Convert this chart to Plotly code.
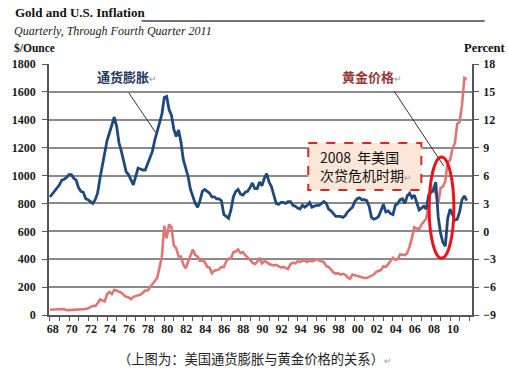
import plotly.graph_objects as go

# ---------------- data (quarterly, 1968Q1 - 2011Q4) ----------------
years = list(range(1968, 2012))

# US CPI inflation, percent (right axis)
inflation = [
    3.7, 4.0, 4.4, 4.7,    # 1968
    5.0, 5.5, 5.6, 5.8,    # 1969
    6.1, 6.1, 5.7, 5.5,    # 1970
    4.7, 4.3, 4.2, 3.5,    # 1971
    3.4, 3.2, 3.0, 3.4,    # 1972
    4.1, 5.7, 7.0, 8.3,    # 1973
    9.8, 10.6, 11.5, 12.3, # 1974
    11.3, 9.5, 8.6, 7.3,   # 1975
    6.4, 6.1, 5.5, 5.0,    # 1976
    5.9, 6.8, 6.7, 6.6,    # 1977
    6.6, 7.2, 7.8, 8.6,    # 1978
    9.8, 10.7, 11.7, 12.6, # 1979
    14.4, 14.5, 13.1, 12.5,# 1980
    11.0, 10.2, 10.9, 9.6, # 1981
    7.7, 6.8, 5.9, 4.5,    # 1982
    3.7, 3.0, 2.6, 3.3,    # 1983
    4.3, 4.5, 4.3, 4.1,    # 1984
    3.7, 3.7, 3.5, 3.5,    # 1985
    3.3, 1.8, 1.6, 1.4,    # 1986
    2.3, 3.7, 4.3, 4.5,    # 1987
    4.0, 3.9, 4.2, 4.3,    # 1988
    4.7, 5.2, 4.6, 4.6,    # 1989
    5.3, 4.9, 5.7, 6.2,    # 1990
    5.3, 4.8, 3.9, 3.0,    # 1991
    2.9, 3.1, 3.1, 3.0,    # 1992
    3.2, 3.2, 2.8, 2.7,    # 1993
    2.5, 2.4, 2.8, 2.6,    # 1994
    2.8, 3.1, 2.6, 2.7,    # 1995
    2.8, 2.8, 3.0, 3.2,    # 1996
    3.0, 2.4, 2.2, 1.9,    # 1997
    1.6, 1.6, 1.6, 1.5,    # 1998
    1.7, 2.1, 2.4, 2.6,    # 1999
    3.2, 3.5, 3.6, 3.4,    # 2000
    3.4, 3.3, 2.7, 1.5,    # 2001
    1.3, 1.4, 1.6, 2.3,    # 2002
    2.9, 2.1, 2.2, 1.9,    # 2003
    1.8, 2.8, 3.0, 3.4,    # 2004
    3.5, 3.0, 3.8, 4.1,    # 2005
    3.6, 3.9, 3.0, 2.3,    # 2006
    2.5, 2.7, 2.4, 3.9,    # 2007
    4.2, 4.4, 5.3, 1.6,    # 2008
    -0.2, -1.2, -1.6, 1.4, # 2009
    2.4, 1.8, 1.2, 1.3,    # 2010
    2.1, 3.4, 3.8, 3.3,    # 2011
]

# Gold price, $/ounce (left axis)
gold = [
    38, 40, 40, 39,        # 1968
    42, 43, 41, 35,        # 1969
    35, 36, 36, 37,        # 1970
    38, 40, 42, 43,        # 1971
    48, 57, 66, 64,        # 1972
    83, 112, 105, 97,      # 1973
    150, 165, 150, 180,    # 1974
    175, 167, 160, 143,    # 1975
    130, 127, 113, 130,    # 1976
    136, 145, 146, 160,    # 1977
    176, 176, 200, 215,    # 1978
    240, 265, 340, 420,    # 1979
    640, 550, 650, 630,    # 1980
    500, 480, 420, 420,    # 1981
    360, 335, 380, 430,    # 1982
    470, 430, 420, 390,    # 1983
    390, 380, 345, 340,    # 1984
    300, 318, 325, 327,    # 1985
    345, 343, 385, 405,    # 1986
    405, 450, 455, 470,    # 1987
    445, 450, 430, 415,    # 1988
    395, 375, 365, 380,    # 1989
    410, 370, 385, 380,    # 1990
    365, 360, 355, 360,    # 1991
    350, 340, 345, 335,    # 1992
    330, 365, 375, 370,    # 1993
    385, 380, 390, 390,    # 1994
    380, 390, 385, 390,    # 1995
    400, 390, 385, 380,    # 1996
    350, 345, 325, 305,    # 1997
    295, 300, 290, 295,    # 1998
    288, 270, 260, 290,    # 1999
    285, 280, 275, 268,    # 2000
    265, 265, 275, 280,    # 2001
    290, 310, 315, 322,    # 2002
    350, 345, 365, 390,    # 2003
    410, 395, 400, 435,    # 2004
    430, 430, 445, 490,    # 2005
    555, 630, 620, 615,    # 2006
    650, 670, 690, 790,    # 2007
    925, 895, 870, 795,    # 2008
    910, 920, 960, 1100,   # 2009
    1110, 1195, 1230, 1370,# 2010
    1385, 1505, 1700, 1690,# 2011
]

quarters = [y + q / 4 for y in years for q in range(4)]

label_years = list(range(1968, 2011, 2))
label_text = ["%02d" % (y % 100) for y in label_years]
left_ticks = list(range(0, 1801, 200))
right_ticks = list(range(-9, 19, 3))

# ---------------- figure ----------------
W, H = 508, 374
L, R, T, B = 48, 26, 64, 59
PW, PH = W - L - R, H - T - B


def px(x):
    return (x - L) / PW


def py(y):
    return (H - B - y) / PH


serif = "Liberation Serif"
cjk = "Noto Sans CJK SC"

fig = go.Figure()
fig.add_trace(go.Scatter(x=quarters, y=inflation, yaxis="y2", mode="lines",
                         line=dict(color="#1F497D", width=2.8), showlegend=False,
                         hoverinfo="skip"))
fig.add_trace(go.Scatter(x=quarters, y=gold, yaxis="y", mode="lines",
                         line=dict(color="#DF7676", width=2.6), showlegend=False,
                         hoverinfo="skip"))

tickfont = dict(family=serif, size=12, color="#1a1a1a", weight="bold")

fig.update_layout(
    width=W, height=H,
    margin=dict(l=L, r=R, t=T, b=B, pad=0),
    paper_bgcolor="white", plot_bgcolor="white",
    xaxis=dict(range=[1967.9, 2012.3], showgrid=False, zeroline=False,
               showline=True, linecolor="#555", linewidth=1.5,
               tickmode="array", tickvals=[y + 0.3 for y in label_years],
               ticktext=label_text, ticks="", tickfont=tickfont,
               ticklabelstandoff=2,
               minor=dict(tickmode="array", tickvals=list(range(1968, 2013)),
                          ticks="outside", ticklen=4, tickcolor="#555",
                          tickwidth=1, showgrid=False)),
    yaxis=dict(range=[0, 1800], tickmode="array", tickvals=left_ticks,
               showgrid=True, gridcolor="#8a8a8a", gridwidth=1.6,
               zeroline=False, showline=True, linecolor="#555", linewidth=1.5,
               ticks="outside", ticklen=5, tickcolor="#555",
               tickfont=tickfont, ticklabelstandoff=4),
    yaxis2=dict(range=[-9, 18], tickmode="array", tickvals=right_ticks,
                overlaying="y", side="right", showgrid=False, zeroline=False,
                showline=True, linecolor="#555", linewidth=1.5,
                ticks="outside", ticklen=5, tickcolor="#555",
                tickfont=tickfont, ticklabelstandoff=2),
)

ann = []
# titles
ann.append(dict(text="Gold and U.S. Inflation", x=px(11), y=py(13), xref="paper", yref="paper",
                xanchor="left", yanchor="middle", showarrow=False,
                font=dict(family=serif, size=13, color="#111", weight="bold")))
ann.append(dict(text="<i>Quarterly, Through Fourth Quarter 2011</i>", x=px(10), y=py(31),
                xref="paper", yref="paper", xanchor="left", yanchor="middle", showarrow=False,
                font=dict(family=serif, size=12, color="#222")))
ann.append(dict(text="$/Ounce", x=px(10), y=py(48), xref="paper", yref="paper",
                xanchor="left", yanchor="middle", showarrow=False,
                font=dict(family=serif, size=11.5, color="#111", weight="bold")))
ann.append(dict(text="Percent", x=px(472), y=py(48), xref="paper", yref="paper",
                xanchor="left", yanchor="middle", showarrow=False,
                font=dict(family=serif, size=12.5, color="#111", weight="bold")))
# series labels
ann.append(dict(text="通货膨胀<span style='color:#999;font-size:9px;font-weight:normal'>↵</span>",
                x=px(95), y=py(77), xref="paper", yref="paper",
                xanchor="left", yanchor="middle", showarrow=False,
                font=dict(family=cjk, size=13, color="#1F3A5F", weight="bold")))
ann.append(dict(text="黄金价格<span style='color:#999;font-size:9px;font-weight:normal'>↵</span>",
                x=px(347), y=py(77), xref="paper", yref="paper",
                xanchor="left", yanchor="middle", showarrow=False,
                font=dict(family=cjk, size=13, color="#953735", weight="bold")))
# crisis box text
ann.append(dict(text="2008  年美国<br>次贷危机时期<span style='color:#999;font-size:9px'>↵</span>",
                x=px(324), y=py(166), xref="paper", yref="paper",
                xanchor="left", yanchor="middle", align="left", showarrow=False,
                font=dict(family=cjk, size=14, color="#111")))
# caption
ann.append(dict(text="（上图为：美国通货膨胀与黄金价格的关系）<span style='color:#999;font-size:9px'>↵</span>",
                x=px(259), y=py(358), xref="paper", yref="paper",
                xanchor="center", yanchor="middle", showarrow=False,
                font=dict(family=cjk, size=13.3, color="#222")))
fig.update_layout(annotations=ann)

shapes = []
# title rule
shapes.append(dict(type="line", xref="paper", yref="paper", x0=px(143), x1=px(495),
                   y0=py(21), y1=py(21), line=dict(color="#444", width=1.5)))
# leader lines
shapes.append(dict(type="line", xref="paper", yref="paper", x0=px(130), y0=py(93),
                   x1=px(157), y1=py(132), line=dict(color="#333", width=1)))
shapes.append(dict(type="line", xref="paper", yref="paper", x0=px(402), y0=py(91),
                   x1=px(453), y1=py(166), line=dict(color="#333", width=1)))
# crisis box
shapes.append(dict(type="rect", xref="paper", yref="paper", x0=px(314), x1=px(430),
                   y0=py(143), y1=py(190), fillcolor="#FCE6D8",
                   line=dict(color="#E02424", width=2, dash="dash"), layer="above"))
# red ellipse around crisis
shapes.append(dict(type="circle", xref="x", yref="y2", x0=2007.8, x1=2010.4,
                   y0=-2.9, y1=8.0, line=dict(color="#E8141B", width=3)))
fig.update_layout(shapes=shapes)

fig.write_html("out.html", config={"displayModeBar": False},
               post_script="document.body.style.margin='0px';")
